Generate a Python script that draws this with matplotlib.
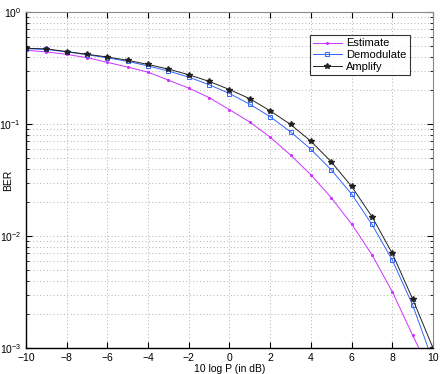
import matplotlib
matplotlib.use('Agg')
import matplotlib.pyplot as plt
import numpy as np

plt.rcParams['font.family'] = ['Liberation Sans', 'DejaVu Sans']

snr_db = np.arange(-10, 11)

ber_estimate = [0.455, 0.44, 0.418, 0.391, 0.355, 0.322, 0.290, 0.246, 0.209, 0.172,
                0.134, 0.104, 0.0762, 0.0528, 0.0352, 0.0220, 0.0128, 0.0068,
                0.00318, 0.0013, 0.00055]
ber_demodulate = [0.47, 0.463, 0.44, 0.415, 0.39, 0.362, 0.33, 0.297, 0.262, 0.224,
                  0.187, 0.150, 0.116, 0.0851, 0.0595, 0.0390, 0.0237, 0.0127,
                  0.0061, 0.00242, 0.00076]
ber_amplify = [0.474, 0.468, 0.443, 0.419, 0.396, 0.370, 0.340, 0.309, 0.275, 0.240,
               0.203, 0.168, 0.131, 0.099, 0.0702, 0.0460, 0.0277, 0.0149,
               0.00699, 0.00274, 0.00100]

fig = plt.figure(figsize=(4.43, 3.74), dpi=100)
ax = fig.add_axes([0.0587, 0.0695, 0.9187, 0.8985])

ax.semilogy(snr_db, ber_estimate, color='#cc33ff', marker='.', markersize=2.5,
            linewidth=0.7, label='Estimate')
ax.semilogy(snr_db, ber_demodulate, color='#3366ff', marker='s', markersize=3.5,
            markerfacecolor='none', markeredgewidth=0.7, linewidth=0.7,
            label='Demodulate')
ax.semilogy(snr_db, ber_amplify, color='#222222', marker='*', markersize=4,
            linewidth=0.7, label='Amplify')

ax.set_xlim(-10, 10)
ax.set_ylim(1e-3, 1)
ax.set_xticks(np.arange(-10, 11, 2))
ax.set_xticklabels(['\u221210', '\u22128', '\u22126', '\u22124', '\u22122',
                    '0', '2', '4', '6', '8', '10'])

ax.grid(True, which='major', linestyle=(0, (1, 2.5)), color='#b0b0b0', linewidth=0.7)
ax.grid(True, which='minor', axis='y', linestyle=(0, (1, 2.5)), color='#b0b0b0',
        linewidth=0.7)

ax.tick_params(which='both', direction='in', labelsize=7.5, top=True, right=True)
ax.tick_params(which='minor', length=2)
ax.tick_params(which='major', length=4)

for side in ['left', 'bottom']:
    ax.spines[side].set_linewidth(1.0)
    ax.spines[side].set_color('black')
for side in ['top', 'right']:
    ax.spines[side].set_linewidth(0.8)
    ax.spines[side].set_color('#888888')

ax.set_xlabel('10 log P (in dB)', fontsize=7.5, labelpad=1)
ax.set_ylabel('BER', fontsize=7.5)
ax.yaxis.set_label_coords(-0.032, 0.5)

leg = ax.legend(loc='upper right', bbox_to_anchor=(0.9435, 0.931), fontsize=8,
                frameon=True, fancybox=False, borderpad=0.3, labelspacing=0.15,
                handlelength=2.6, handletextpad=0.4, borderaxespad=0)
leg.get_frame().set_edgecolor('black')
leg.get_frame().set_linewidth(0.8)

fig.savefig('out.png', dpi=100)
